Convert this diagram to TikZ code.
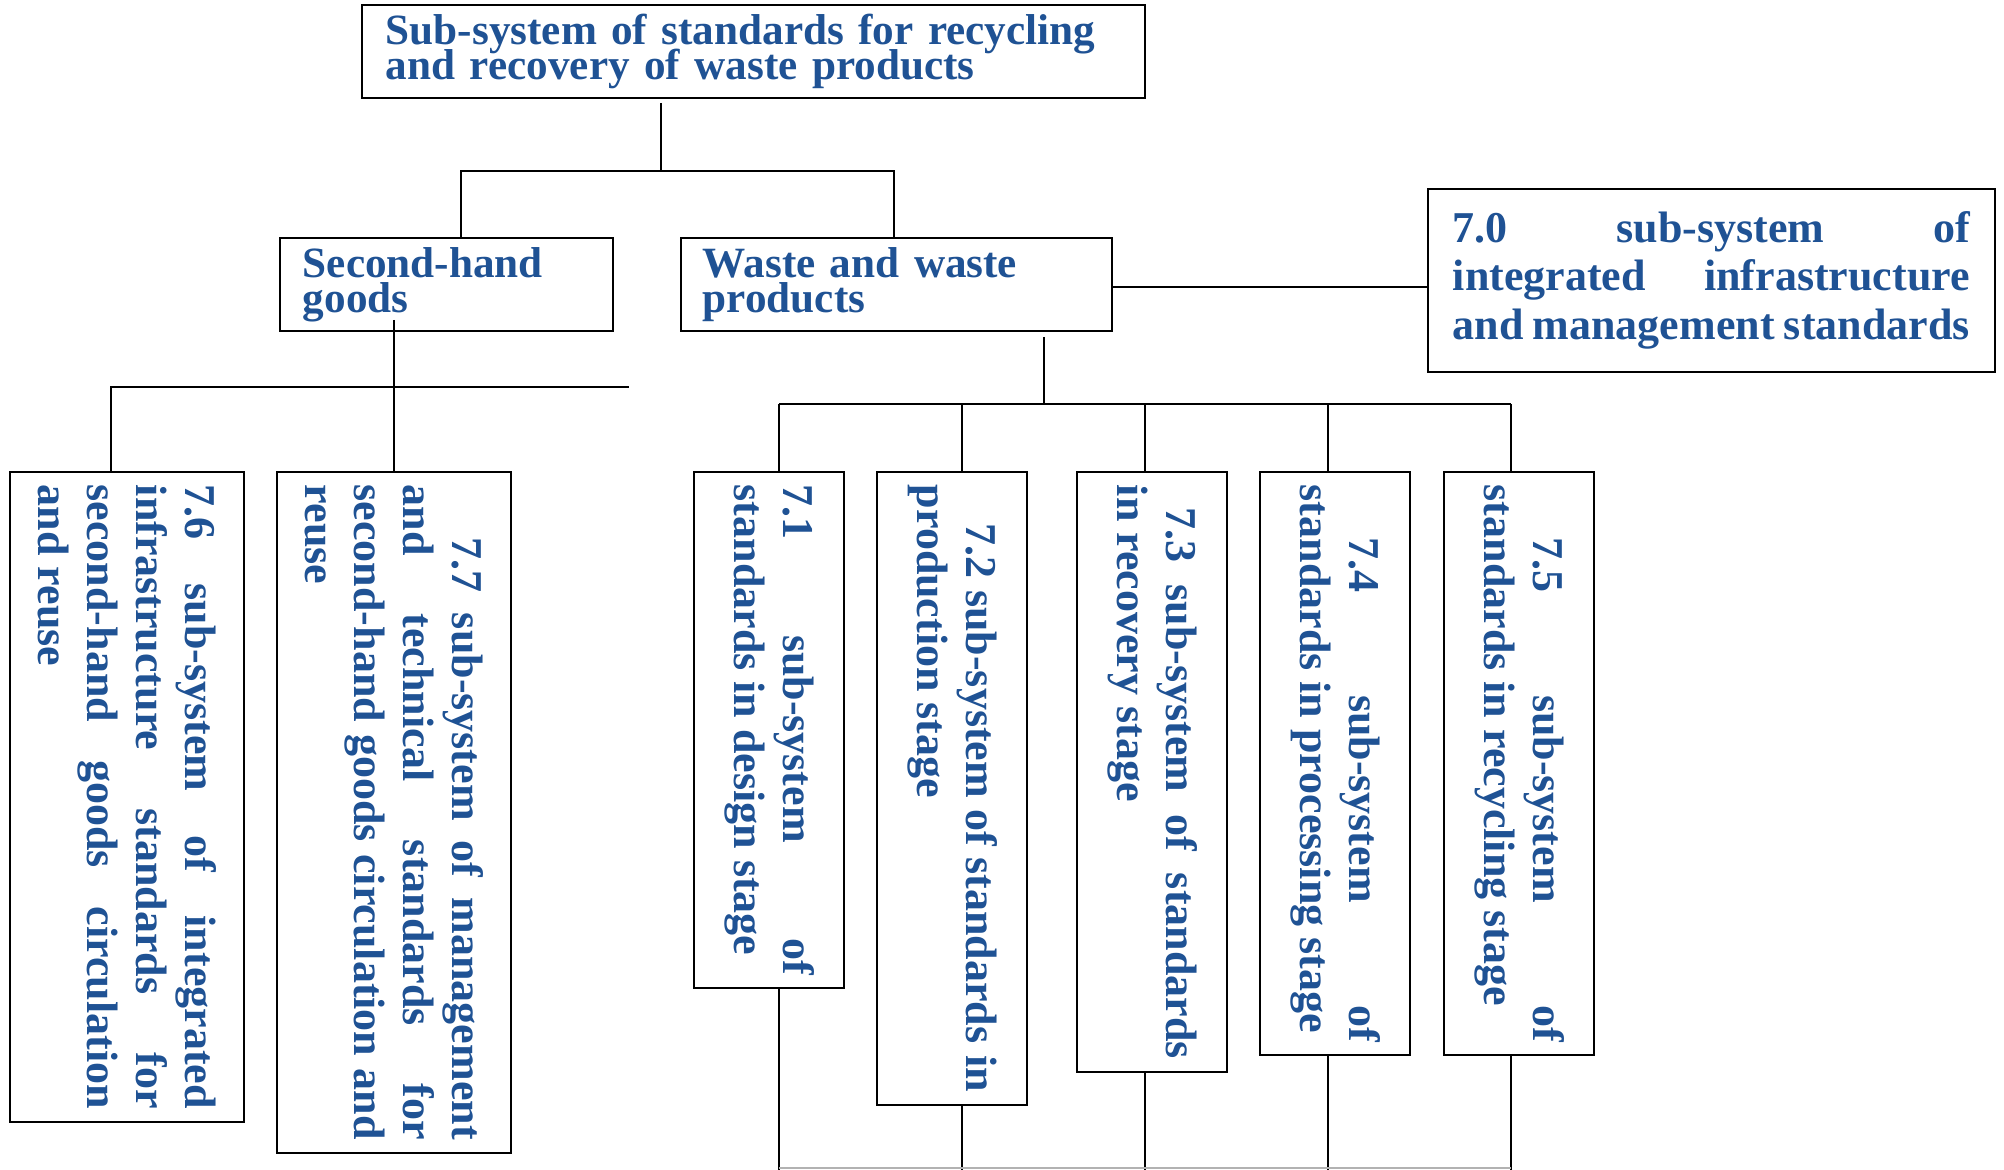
\documentclass[tikz,border=0pt]{standalone}
\usepackage{fontspec}
\setmainfont{Liberation Serif}
\definecolor{txtblue}{RGB}{31,82,148}
\begin{document}
\begin{tikzpicture}[x=0.5pt,y=-0.5pt,
	hbox/.style={draw,line width=0.8pt,anchor=north west,text=txtblue,align=left,inner ysep=0pt,
		font=\bfseries\fontsize{21.6}{17.5}\selectfont\lineskiplimit-100pt},
	vbox/.style={draw,line width=0.8pt,rotate=-90,anchor=north west,text=txtblue,align=justify,
		inner xsep=6.5pt,inner ysep=0pt,minimum height=75pt,
		font=\bfseries\fontsize{22}{24.5}\selectfont\tolerance 10000\hyphenpenalty 10000\exhyphenpenalty 10000},
	link/.style={line width=0.6pt}]
	\useasboundingbox (0,0) rectangle (2004,1170);
	% upper levels
	\node[hbox,text width=367.5pt,inner xsep=12pt,minimum height=46.5pt] (top) at (361,4) {Sub-system of standards for recycling\\and recovery of waste products};
	\node[hbox,text width=143.5pt,inner xsep=11.5pt,minimum height=46.5pt] (second) at (279,237) {Second-hand\\goods};
	\node[hbox,text width=193.5pt,inner xsep=11pt,minimum height=46.5pt] (waste) at (680,237) {Waste and waste\\products};
	\node[hbox,text width=258.5pt,inner xsep=12.5pt,minimum height=91.5pt,align=justify,
		font=\bfseries\fontsize{22}{24.25}\selectfont\tolerance 10000] (infra) at (1427,188) {7.0 sub-system of\linebreak integrated infrastructure\linebreak and management standards};
	% vertical boxes
	\node[vbox,text width=245pt] (b71) at (845,471) {7.1 sub-system of\linebreak standards in design stage};
	\node[vbox,text width=303.5pt] (b72) at (1028,471) {\hspace*{19.5pt}7.2 sub-system of standards in\linebreak production stage};
	\node[vbox,text width=287pt] (b73) at (1228,471) {\hspace*{11.5pt}7.3 sub-system of standards\linebreak in recovery stage};
	\node[vbox,text width=278.5pt] (b74) at (1411,471) {\hspace*{26.5pt}7.4 sub-system of\linebreak standards in processing stage};
	\node[vbox,text width=278.5pt] (b75) at (1595,471) {\hspace*{26.5pt}7.5 sub-system of\linebreak standards in recycling stage};
	\node[vbox,text width=312pt,minimum height=117pt] (b76) at (245,471) {7.6 sub-system of integrated\linebreak infrastructure standards for\linebreak second-hand goods circulation\linebreak and reuse};
	\node[vbox,text width=327.5pt,minimum height=117pt] (b77) at (512,471) {\hspace*{26.5pt}7.7 sub-system of management\linebreak and technical standards for\linebreak second-hand goods circulation and\linebreak reuse};
	% connectors
	\coordinate (tdrop) at (661,103);
	\coordinate (busL) at (461,171);
	\coordinate (busR) at (894,171);
	\draw[link] (tdrop) -- (tdrop |- busL);
	\draw[link] (busL |- second.north) -- (busL) -- (busR) -- (busR |- waste.north);
	\coordinate (wlink) at (1111,287);
	\draw[link] (wlink) -- (wlink -| infra.west);
	\coordinate (sdrop) at (394,320);
	\coordinate (sbusL) at (111,387);
	\coordinate (sbusR) at (629,387);
	\draw[link] (sbusL |- b76.west) -- (sbusL) -- (sbusR);
	\draw[link] (sdrop) -- (sdrop |- b77.west);
	\coordinate (wdrop) at (1044,337);
	\coordinate (bus1) at (779,404);
	\coordinate (bus2) at (962,404);
	\coordinate (bus3) at (1145,404);
	\coordinate (bus4) at (1328,404);
	\coordinate (bus5) at (1511,404);
	\coordinate (foot) at (0,1168);
	\draw[link] (wdrop) -- (wdrop |- bus1);
	\draw[link] (bus1) -- (bus5);
	\foreach \i in {1,...,5} {
		\draw[link] (bus\i) -- (bus\i |- b7\i.west);
		\draw[link] (b7\i.east -| bus\i) -- (bus\i |- 0,1170);
	}
	\draw[link,gray!60] (bus1 |- foot) -- (bus5 |- foot); % bottom rail
\end{tikzpicture}
\end{document}
